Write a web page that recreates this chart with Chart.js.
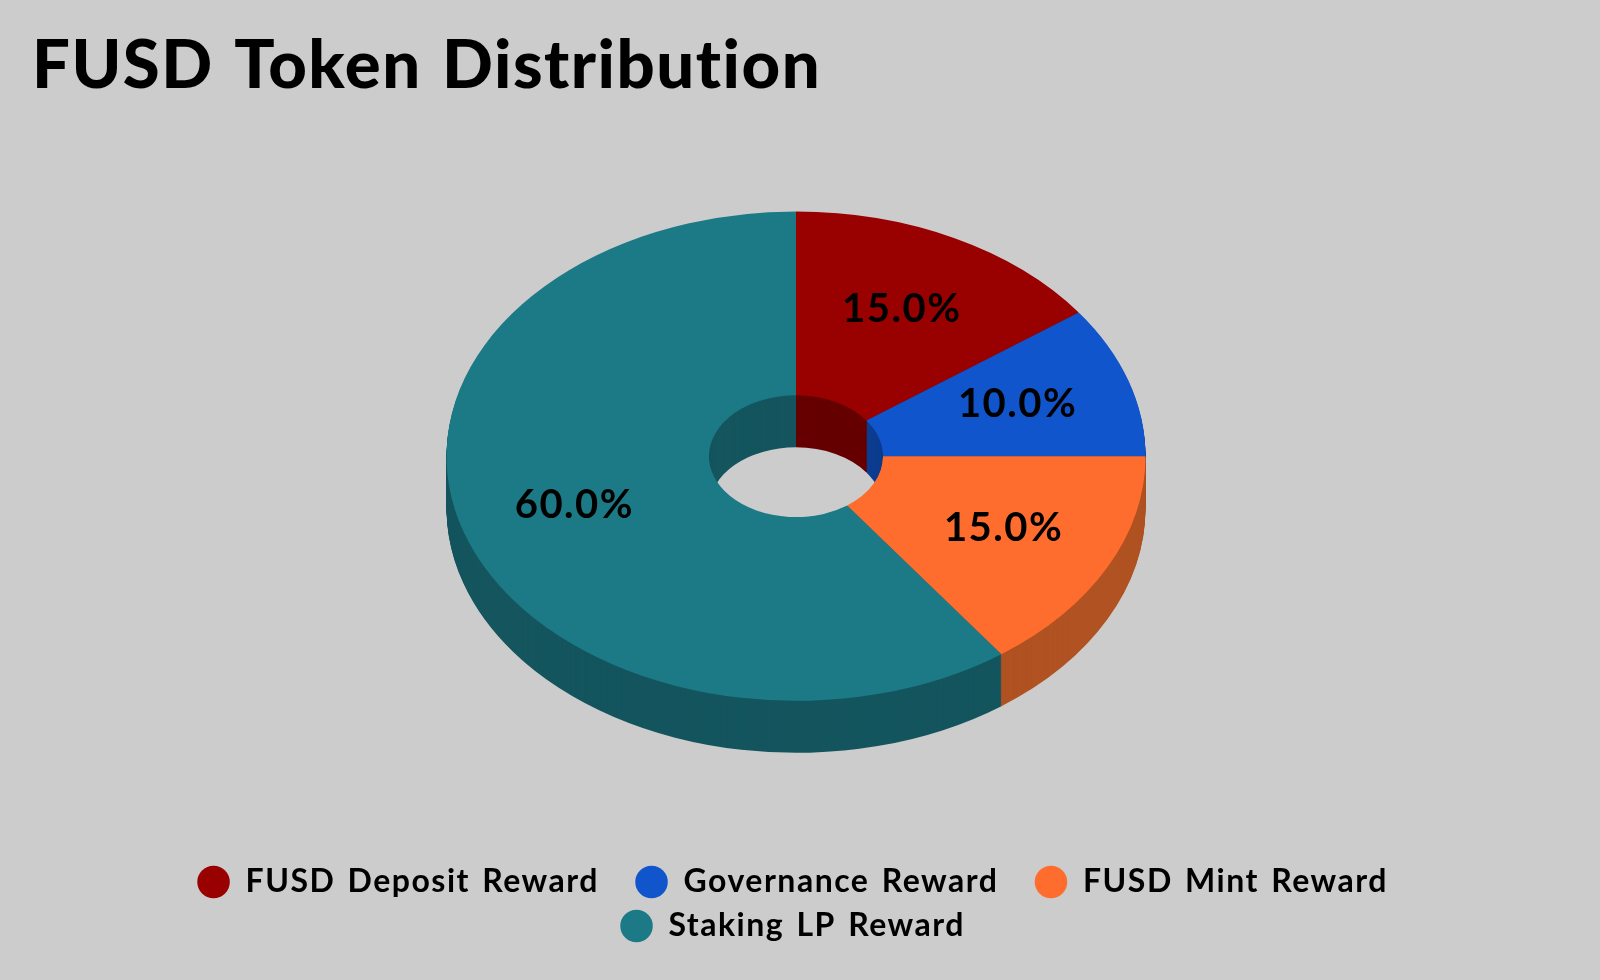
<!DOCTYPE html>
<html>
<head>
<meta charset="utf-8">
<title>FUSD Token Distribution</title>
<script src="https://cdn.jsdelivr.net/npm/chart.js@4"></script>
<style>
    html, body { margin: 0; padding: 0; background: #cccccc; }
    canvas { display: block; }
</style>
</head>
<body>
<canvas id="token-chart" width="1600" height="980"></canvas>
<script>
const labels = ['FUSD Deposit Reward', 'Governance Reward', 'FUSD Mint Reward', 'Staking LP Reward'];
const shares = [15, 10, 15, 60];
const topColors = ['#990000', '#1155cc', '#ff6d2e', '#1c7a87'];
const sideColors = ['#660000', '#0b3c8f', '#b05222', '#14555e'];

const squash = 0.7;      // y scale of the tilted ring
const depth = 52;        // height of the ring wall
const labelRadius = 233;
const fontName = 'Lato';

// Tilts the doughnut and builds its wall by stacking dark copies of each arc
const tiltPlugin = {
    id: 'tilt',
    beforeLayout(chart) {
        chart.ctx.letterSpacing = '1.5px';
        chart.ctx.wordSpacing = '3px';
    },
    afterLayout(chart) {
        // the trailing gaps pull the centred rows left, push them back
        chart.legend.left += 9;
        chart.legend.right += 9;
    },
    beforeDatasetsDraw(chart) {
        const ctx = chart.ctx;
        const arcs = chart.getDatasetMeta(0).data;
        const cx = arcs[0].x, cy = arcs[0].y;
        ctx.save();
        ctx.translate(cx, cy);
        ctx.scale(1, squash);
        ctx.translate(-cx, -cy);
        for (let d = depth; d > 0; d--) {
            ctx.save();
            ctx.translate(0, d / squash);
            arcs.forEach((arc, i) => {
                const topOptions = arc.options;
                arc.options = Object.assign({}, topOptions, { backgroundColor: sideColors[i] });
                arc.draw(ctx);
                arc.options = topOptions;
            });
            ctx.restore();
        }
    },
    afterDatasetsDraw(chart) {
        const ctx = chart.ctx;
        ctx.restore();

        // percent labels on the top face
        const total = shares.reduce((a, b) => a + b, 0);
        ctx.save();
        ctx.fillStyle = '#000000';
        ctx.font = '700 40px ' + fontName;
        ctx.textAlign = 'center';
        ctx.textBaseline = 'middle';
        chart.getDatasetMeta(0).data.forEach((arc, i) => {
            const mid = (arc.startAngle + arc.endAngle) / 2;
            const x = arc.x + Math.cos(mid) * labelRadius;
            const y = arc.y + Math.sin(mid) * labelRadius * squash - 2;
            ctx.fillText((shares[i] / total * 100).toFixed(1) + '%', x, y);
        });
        ctx.restore();
    }
};

new Chart(document.getElementById('token-chart'), {
    type: 'doughnut',
    data: {
        labels: labels,
        datasets: [{
            data: shares,
            backgroundColor: topColors,
            borderWidth: 0,
            radius: 349.5,
            cutout: '24.9%',
            clip: false
        }]
    },
    options: {
        responsive: false,
        animation: false,
        layout: { padding: { left: 32, right: 40, top: 0, bottom: 28 } },
        plugins: {
            title: {
                display: true,
                text: 'FUSD Token Distribution',
                align: 'start',
                color: '#000000',
                font: { family: fontName, size: 67, weight: '900' },
                padding: { top: 26, bottom: -48 }
            },
            legend: {
                position: 'bottom',
                labels: {
                    color: '#000000',
                    font: { family: fontName, size: 32, weight: '700' },
                    usePointStyle: true,
                    pointStyle: 'circle',
                    boxWidth: 32,
                    boxHeight: 23,
                    padding: 12,
                    // widen the gap between entries without changing the row pitch
                    generateLabels(chart) {
                        return Chart.overrides.doughnut.plugins.legend.labels.generateLabels(chart).map(item => {
                            item.text = item.text + '\u00a0\u00a0';
                            return item;
                        });
                    }
                }
            },
            tooltip: { enabled: false }
        }
    },
    plugins: [tiltPlugin]
});
</script>
</body>
</html>
